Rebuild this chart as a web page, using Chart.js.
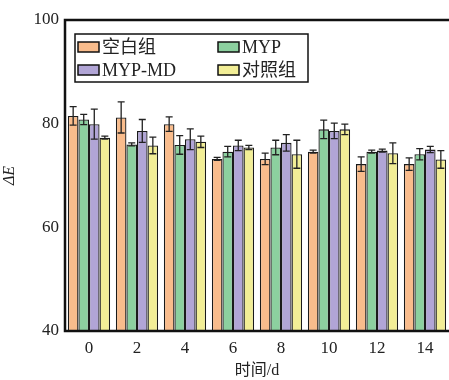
<!DOCTYPE html>
<html>
<head>
<meta charset="utf-8">
<script src="https://cdn.jsdelivr.net/npm/chart.js@4"></script>
<style>
  html, body { margin: 0; padding: 0; background: #fff; }
  #wrap { width: 449px; height: 380px; position: relative; }
</style>
</head>
<body>
<div id="wrap"><canvas id="c" width="449" height="380"></canvas></div>
<script>
// Storage time (days)
const days = ['0', '2', '4', '6', '8', '10', '12', '14'];

// ΔE per group
const blankVals = [81.5, 81.2, 79.9, 73.2, 73.2, 74.6, 72.2, 72.2];
const mypVals   = [80.8, 76.0, 75.9, 74.6, 75.4, 78.9, 74.6, 74.1];
const mdVals    = [79.9, 78.6, 77.0, 75.8, 76.3, 78.6, 74.8, 75.0];
const ctrlVals  = [77.3, 75.8, 76.5, 75.4, 74.1, 78.9, 74.3, 73.1];

// Standard deviations
const blankErr = [1.8, 3.0, 1.4, 0.3, 1.1, 0.3, 1.4, 1.2];
const mypErr   = [1.0, 0.3, 1.8, 1.0, 1.4, 1.8, 0.3, 1.1];
const mdErr    = [2.9, 2.2, 2.0, 1.0, 1.6, 1.5, 0.3, 0.6];
const ctrlErr  = [0.3, 1.6, 1.1, 0.4, 2.7, 1.0, 2.0, 1.7];

const seriesNames = ['空白组', 'MYP', 'MYP-MD', '对照组'];
const seriesColors = ['#F9BC8C', '#8CD09F', '#B1A5D6', '#F2EE96'];

const FONT = '"Liberation Serif", "Times New Roman", "Noto Sans CJK SC", serif';

const valueSets = [blankVals, mypVals, mdVals, ctrlVals];
const errSets = [blankErr, mypErr, mdErr, ctrlErr];

// Error bars drawn on top of each bar
const errorBars = {
  id: 'errorBars',
  afterDatasetsDraw(chart) {
    const ctx = chart.ctx;
    const y = chart.scales.y;
    ctx.save();
    ctx.strokeStyle = '#222';
    ctx.lineWidth = 1.3;
    chart.data.datasets.forEach((ds, di) => {
      const meta = chart.getDatasetMeta(di);
      meta.data.forEach((bar, i) => {
        const v = ds.data[i], e = errSets[di][i];
        const x = bar.x;
        const yt = y.getPixelForValue(v + e);
        const yb = y.getPixelForValue(v - e);
        ctx.beginPath();
        ctx.moveTo(x, yt); ctx.lineTo(x, yb);
        ctx.moveTo(x - 3.5, yt); ctx.lineTo(x + 3.5, yt);
        ctx.moveTo(x - 3.5, yb); ctx.lineTo(x + 3.5, yb);
        ctx.stroke();
      });
    });
    ctx.restore();
  }
};

// Plot frame (left, top, bottom) and boxed legend
const frameAndLegend = {
  id: 'frameAndLegend',
  afterDraw(chart) {
    const ctx = chart.ctx;
    const a = chart.chartArea;
    ctx.save();
    ctx.strokeStyle = '#111';
    ctx.lineWidth = 2.5;
    ctx.beginPath();
    ctx.moveTo(a.right + 2, a.top);
    ctx.lineTo(a.left, a.top);
    ctx.lineTo(a.left, a.bottom);
    ctx.lineTo(a.right + 2, a.bottom);
    ctx.stroke();

    // legend box
    const lx = 75, ly = 34, lw = 233, lh = 48;
    ctx.lineWidth = 1.5;
    ctx.strokeRect(lx, ly, lw, lh);
    const pos = [[78, 47], [218, 47], [78, 70], [218, 70]];
    ctx.font = '18px ' + FONT;
    ctx.textBaseline = 'middle';
    ctx.textAlign = 'left';
    pos.forEach((p, i) => {
      ctx.fillStyle = seriesColors[i];
      ctx.fillRect(p[0], p[1] - 5, 21, 10);
      ctx.lineWidth = 1.5;
      ctx.strokeStyle = '#111';
      ctx.strokeRect(p[0], p[1] - 5, 21, 10);
      ctx.fillStyle = '#222';
      ctx.fillText(seriesNames[i], p[0] + 24, p[1] + 1);
    });
    ctx.restore();
  }
};

new Chart(document.getElementById('c'), {
  type: 'bar',
  data: {
    labels: days,
    datasets: valueSets.map((vals, i) => ({
      label: seriesNames[i],
      data: vals,
      backgroundColor: seriesColors[i],
      borderColor: '#1a1a1a',
      borderWidth: 1.3,
      categoryPercentage: 0.88,
      barPercentage: 1.0
    }))
  },
  options: {
    responsive: false,
    animation: false,
    devicePixelRatio: 1,
    layout: { padding: { top: 20, right: 0, left: 0, bottom: 0 } },
    plugins: {
      legend: { display: false },
      tooltip: { enabled: false }
    },
    scales: {
      x: {
        grid: { display: false, drawTicks: false },
        border: { display: false },
        ticks: {
          color: '#222',
          font: { family: FONT, size: 17 },
          padding: 7
        },
        title: {
          display: true,
          text: '时间/d',
          color: '#222',
          font: { family: FONT, size: 16 },
          padding: { top: 0, bottom: 0 }
        },
        afterFit(scale) { scale.height = 49; }
      },
      y: {
        min: 40,
        max: 100,
        grid: { display: false, drawOnChartArea: false, drawTicks: true, tickLength: 4, color: '#111', tickWidth: 2 },
        border: { display: false },
        ticks: {
          stepSize: 20,
          color: '#222',
          font: { family: FONT, size: 17 },
          padding: 2
        },
        title: {
          display: true,
          text: 'ΔE',
          color: '#222',
          font: { family: FONT, size: 16, style: 'italic' },
          padding: { top: 0, bottom: 10 }
        },
        afterFit(scale) { scale.width = 65; }
      }
    }
  },
  plugins: [errorBars, frameAndLegend]
});
</script>
</body>
</html>
